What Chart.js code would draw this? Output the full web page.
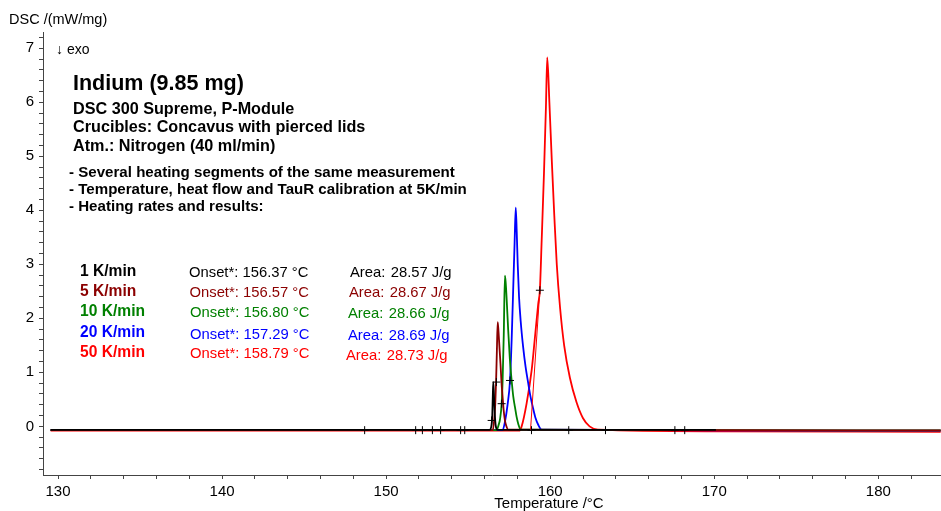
<!DOCTYPE html>
<html>
<head>
<meta charset="utf-8">
<script src="https://cdn.jsdelivr.net/npm/chart.js@4.4.1/dist/chart.umd.min.js"></script>
<style>
html,body{margin:0;padding:0;background:#fff;}
canvas{display:block;}
</style>
</head>
<body>
<canvas id="c" width="941" height="511"></canvas>
<script>
// ---------- DATA ----------
const rateLabels = ['1 K/min', '5 K/min', '10 K/min', '20 K/min', '50 K/min'];
const onsetLabels = ['Onset*: 156.37 °C', 'Onset*: 156.57 °C', 'Onset*: 156.80 °C', 'Onset*: 157.29 °C', 'Onset*: 158.79 °C'];
const areaValues = ['28.57 J/g', '28.67 J/g', '28.66 J/g', '28.69 J/g', '28.73 J/g'];

const xMajorTicks = [130, 140, 150, 160, 170, 180];
const yMajorTicks = [0, 1, 2, 3, 4, 5, 6, 7];

const blackT = [129.55, 150, 156.3, 156.42, 156.47, 156.5, 156.53, 156.57, 156.61, 156.65, 156.7, 156.78, 170.1];
const blackV = [-0.065, -0.065, -0.065, 0.02, 0.2, 0.55, 0.82, 0.6, 0.3, 0.1, -0.02, -0.065, -0.065];

const darkRedT = [129.55, 156.5, 156.58, 156.65, 156.7, 156.75, 156.8, 156.85, 156.92, 156.97, 157.03, 157.1, 157.17, 157.24, 157.32, 157.44, 170, 183.8];
const darkRedV = [-0.07, -0.07, 0.1, 0.4, 0.82, 1.4, 1.93, 1.75, 1.4, 1.16, 0.82, 0.54, 0.28, 0.11, 0.01, -0.06, -0.07, -0.075];

const greenT = [129.55, 156.73, 156.85, 156.95, 157.04, 157.1, 157.17, 157.24, 157.29, 157.34, 157.44, 157.54, 157.65, 157.75, 157.85, 157.95, 158.05, 158.2, 170, 183.8];
const greenV = [-0.07, -0.07, 0.02, 0.15, 0.42, 0.85, 1.7, 2.79, 2.65, 2.39, 1.78, 1.25, 0.85, 0.55, 0.36, 0.18, 0.05, -0.06, -0.07, -0.075];

const blueT = [129.55, 157.1, 157.25, 157.4, 157.55, 157.65, 157.75, 157.83, 157.9, 157.96, 158.02, 158.1, 158.2, 158.35, 158.5, 158.66, 158.8, 158.96, 159.1, 159.27, 159.48, 170, 183.8];
const blueV = [-0.07, -0.07, 0.1, 0.4, 0.85, 1.6, 2.6, 3.4, 4.05, 3.6, 3.0, 2.4, 1.95, 1.47, 1.1, 0.8, 0.55, 0.33, 0.16, 0.03, -0.06, -0.075, -0.08];

const redT = [129.55, 158.1, 158.26, 158.56, 158.87, 159.07, 159.27, 159.37, 159.48, 159.62, 159.74, 159.82, 159.95, 160.1, 160.25, 160.4, 160.6, 160.85, 161.2, 161.6, 162.0, 162.4, 162.9, 170, 183.8];
const redV = [-0.08, -0.08, 0.0, 0.42, 1.04, 1.65, 2.27, 2.52, 3.44, 4.68, 5.91, 6.83, 6.0, 4.9, 3.9, 3.0, 2.2, 1.5, 0.9, 0.45, 0.15, 0.0, -0.06, -0.09, -0.1];

const tangentT = [158.8, 159.37];
const tangentV = [-0.07, 2.52];

const markerT = [148.69, 151.80, 152.21, 152.82, 153.32, 154.54, 154.79, 158.86, 161.13, 163.37, 167.6, 168.2, 156.43, 156.72, 157.04, 157.55, 159.37];
const markerV = [-0.07, -0.07, -0.07, -0.07, -0.07, -0.07, -0.07, -0.07, -0.07, -0.07, -0.07, -0.07, 0.11, 0.82, 0.42, 0.85, 2.52];

// ---------- STYLE ----------
const colors = ['#000000', '#8B0000', '#008000', '#0000FF', '#FF0000'];
const FONT = "'Liberation Sans', Arial, sans-serif";
const axisColor = '#444444';

const pts = (T, V) => T.map((t, i) => ({ x: t, y: V[i] }));

// ticks (minor every 2 °C and every 0.2 mW/mg)
const xTicks = [];
for (let v = 130; v <= 182; v += 2) xTicks.push(v);
const yTicks = [];
for (let k = -4; k <= 36; k++) yTicks.push(Math.round(k * 2) / 10);

function curve(T, V, color, order) {
  return {
    data: pts(T, V), borderColor: color, borderWidth: 1.8, pointRadius: 0,
    fill: false, cubicInterpolationMode: 'monotone', order: order
  };
}

function noPad(s) {
  s.paddingLeft = 0; s.paddingRight = 0; s.paddingTop = 0; s.paddingBottom = 0;
}

const textPlugin = {
  id: 'texts',
  afterDraw(chart) {
    const c = chart.ctx;
    c.save();
    c.textBaseline = 'alphabetic';
    c.textAlign = 'left';
    c.fillStyle = '#000';
    c.font = '14.5px ' + FONT;
    c.fillText('DSC /(mW/mg)', 9, 23.5);
    c.font = '14px ' + FONT;
    c.fillText('\u2193 exo', 56, 53.5);
    c.textAlign = 'center';
    c.font = '15px ' + FONT;
    c.fillText('Temperature /\u00B0C', 549, 508);
    c.textAlign = 'left';

    c.font = 'bold 21.5px ' + FONT;
    c.fillText('Indium (9.85 mg)', 73, 90);
    c.font = 'bold 16.2px ' + FONT;
    c.fillText('DSC 300 Supreme, P-Module', 73, 114);
    c.fillText('Crucibles: Concavus with pierced lids', 73, 132);
    c.fillText('Atm.: Nitrogen (40 ml/min)', 73, 151);
    c.font = 'bold 15.1px ' + FONT;
    c.fillText('- Several heating segments of the same measurement', 69, 176.7);
    c.fillText('- Temperature, heat flow and TauR calibration at 5K/min', 69, 194);
    c.fillText('- Heating rates and results:', 69, 210.7);

    const rateY = [272, 292, 312, 333, 353];
    const onsetY = [272.7, 293, 313, 334.5, 354];
    const areaY = [272.7, 292.7, 314.3, 336, 356];
    const onsetX = [189, 189.5, 190, 190, 190];
    const areaX = [350, 349, 348, 348, 346];
    c.textBaseline = 'middle';
    for (let i = 0; i < rateLabels.length; i++) {
      c.fillStyle = colors[i];
      c.font = 'bold 15.6px ' + FONT;
      c.fillText(rateLabels[i], 80, rateY[i]);
      c.font = '14.8px ' + FONT;
      c.fillText(onsetLabels[i], onsetX[i], onsetY[i]);
      c.fillText('Area:', areaX[i], areaY[i]);
      c.fillText(areaValues[i], areaX[i] + 40.7, areaY[i]);
    }
    c.restore();
  }
};

new Chart(document.getElementById('c'), {
  type: 'line',
  data: {
    datasets: [
      { type: 'scatter', data: pts(markerT, markerV), pointStyle: 'cross', pointRadius: 4,
        borderColor: '#000', backgroundColor: '#000', borderWidth: 1, showLine: false, order: 0 },
      { data: pts(tangentT, tangentV), borderColor: colors[4], borderWidth: 1, pointRadius: 0, order: 1 },
      curve(blackT, blackV, colors[0], 2),
      curve(darkRedT, darkRedV, colors[1], 3),
      curve(greenT, greenV, colors[2], 4),
      curve(blueT, blueV, colors[3], 5),
      curve(redT, redV, colors[4], 6)
    ]
  },
  options: {
    responsive: false,
    animation: false,
    devicePixelRatio: 1,
    layout: { autoPadding: false, padding: { top: 32, right: 0, left: 0, bottom: 0 } },
    plugins: { legend: { display: false }, tooltip: { enabled: false } },
    scales: {
      x: {
        type: 'linear', min: 129.085, max: 183.82,
        afterBuildTicks: s => { s.ticks = xTicks.map(v => ({ value: v })); },
        afterFit: s => { s.height = 36; noPad(s); },
        grid: { drawOnChartArea: false, drawTicks: true, tickLength: 4, color: axisColor },
        border: { display: true, color: axisColor, width: 1 },
        ticks: {
          autoSkip: false, maxRotation: 0, padding: 4, color: '#000',
          font: { family: FONT, size: 15 },
          callback: v => xMajorTicks.includes(v) ? String(v) : ''
        }
      },
      y: {
        type: 'linear', min: -0.9, max: 7.3,
        afterBuildTicks: s => { s.ticks = yTicks.map(v => ({ value: v })); },
        afterFit: s => { s.width = 43; noPad(s); },
        grid: { drawOnChartArea: false, drawTicks: true, tickLength: 4, color: axisColor },
        border: { display: true, color: axisColor, width: 1 },
        ticks: {
          autoSkip: false, padding: 5, color: '#000',
          font: { family: FONT, size: 15 },
          callback: v => yMajorTicks.includes(v) ? String(v) : ''
        }
      }
    }
  },
  plugins: [textPlugin]
});
</script>
</body>
</html>
